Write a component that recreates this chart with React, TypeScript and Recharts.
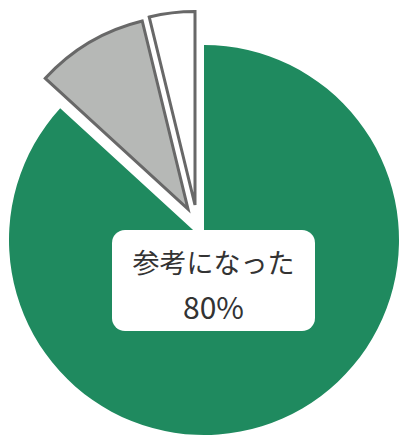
import React from "react";
import { PieChart, Pie, Cell } from "recharts";

const categories = ["参考になった", "どちらともいえない", "参考にならなかった"];
const values = [86.8, 9.4, 3.8];
const labelTitle = "参考になった";
const labelValue = "80%";

const fills = ["#1f8a5f", "#b6b8b6", "#ffffff"];
const strokes = ["none", "#686868", "#686868"];
// explode offsets (px) for each slice
const offsets = [
  { dx: 0, dy: 0 },
  { dx: -16, dy: -31 },
  { dx: -9, dy: -35 },
];

const data = categories.map((name, i) => ({ name, value: values[i] }));

const W = 403;
const H = 437;
const CX = 204;
const CY = 240;
const R = 195;

export default function App() {
  return (
    <div style={{ position: "absolute", left: 0, top: 0, width: W, height: H, background: "#fff" }}>
      <PieChart width={W} height={H} margin={{ top: 0, right: 0, bottom: 0, left: 0 }}>
        {categories.map((_, i) => {
          const { dx, dy } = offsets[i];
          return (
            <Pie
              key={i}
              data={data}
              dataKey="value"
              nameKey="name"
              cx={CX + dx}
              cy={CY + dy}
              outerRadius={i === 0 ? R : R - 1.5}
              innerRadius={0}
              startAngle={90}
              endAngle={-270}
              isAnimationActive={false}
              stroke="none"
            >
              {data.map((_, j) => (
                <Cell
                  key={j}
                  fill={j === i ? fills[j] : "none"}
                  stroke={j === i ? strokes[j] : "none"}
                  strokeWidth={j === i ? 3 : 0}
                  strokeLinejoin="miter"
                />
              ))}
            </Pie>
          );
        })}
      </PieChart>
      <div
        style={{
          position: "absolute",
          left: 112,
          top: 230,
          width: 203,
          height: 101,
          background: "#fff",
          borderRadius: 13,
          fontFamily: "'Noto Sans CJK JP', 'Noto Sans', sans-serif",
          color: "#333333",
          textAlign: "center",
        }}
      >
        <div style={{ position: "absolute", left: 0, right: 0, top: 14, fontSize: 27, fontWeight: 400, lineHeight: "36px" }}>
          {labelTitle}
        </div>
        <div style={{ position: "absolute", left: 0, right: 0, top: 58, fontSize: 30, fontWeight: 400, lineHeight: "36px" }}>
          {labelValue}
        </div>
      </div>
    </div>
  );
}
